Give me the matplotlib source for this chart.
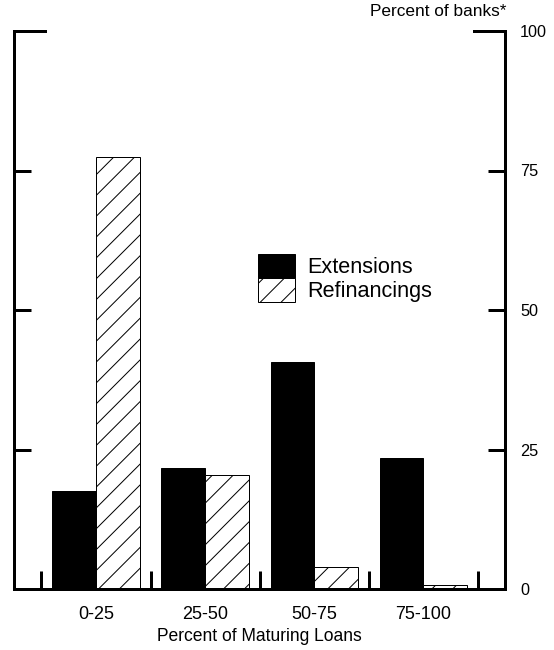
import matplotlib
matplotlib.use("Agg")
import matplotlib.pyplot as plt
import numpy as np

# Share of banks by percent of maturing loans handled each way
categories = ["0-25", "25-50", "50-75", "75-100"]
extensions = [17.5, 21.7, 40.7, 23.5]
refinancings = [77.4, 20.4, 4.0, 0.8]
y_ticks = [0, 25, 50, 75, 100]

DPI = 125
PX = 72 / DPI  # points per output pixel

plt.rcParams['font.family'] = ['Liberation Sans', 'DejaVu Sans']
plt.rcParams['hatch.linewidth'] = 1.0 * PX
plt.rcParams['hatch.color'] = 'black'

W, H = 554, 650
fig = plt.figure(figsize=(W / DPI, H / DPI), dpi=DPI)
left, right, top, bottom = 14, 505, 31, 589
ax = fig.add_axes([left / W, 1 - bottom / H, (right - left) / W, (bottom - top) / H])

x = np.arange(len(categories))
w = 0.4
ax.bar(x - w / 2, extensions, w, color='black', edgecolor='black',
       linewidth=1 * PX, label='Extensions')
ax.bar(x + w / 2, refinancings, w, color='white', edgecolor='black',
       hatch='//', linewidth=1 * PX, label='Refinancings')

ax.set_xlim(-0.752, 3.749)
ax.set_ylim(0, 100)

# frame: left, right, bottom spines; short corner stubs on top
lw = 3 * PX
for s in ('left', 'right', 'bottom'):
    ax.spines[s].set_linewidth(lw)
ax.spines['top'].set_visible(False)
stub = 31 / (right - left)
for x0, x1 in ((0, stub), (1 - stub, 1)):
    ax.plot([x0, x1], [1, 1], transform=ax.transAxes, color='black',
            lw=lw, clip_on=False, solid_capstyle='projecting')

# y axis: ticks on both sides, values on the right
ax.set_yticks(y_ticks)
ax.tick_params(axis='y', which='major', left=True, right=True,
               labelleft=False, labelright=True, direction='in',
               length=17 * PX, width=lw, pad=15 * PX,
               labelsize=16.2 * PX)

# x axis: category labels, boundary ticks pointing up
ax.set_xticks(x, categories)
ax.set_xticks(np.arange(-0.5, len(categories), 1), minor=True)
ax.tick_params(axis='x', which='major', length=0, pad=17 * PX,
               labelsize=18 * PX)
ax.tick_params(axis='x', which='minor', direction='in', length=18 * PX,
               width=lw)
ax.set_xlabel('Percent of Maturing Loans', fontsize=17.5 * PX,
              labelpad=5 * PX)

fig.text(507 / W, 1 - 12 / H, 'Percent of banks*', ha='right', va='center',
         fontsize=17.2 * PX)

fs = 21.7
ax.legend(loc='upper left', bbox_to_anchor=(258 / W, 1 - 254 / H),
          bbox_transform=fig.transFigure, frameon=False, borderpad=0,
          borderaxespad=0, labelspacing=0, handlelength=37 / fs,
          handleheight=28 / fs, handletextpad=12 / fs,
          prop={'size': fs * PX})

fig.savefig('out.png', dpi=DPI)
